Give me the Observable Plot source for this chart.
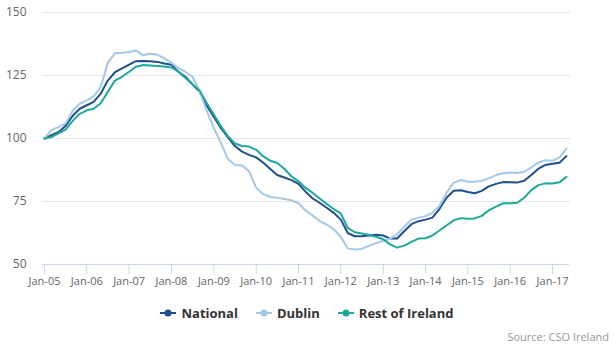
<!DOCTYPE html>
<html>
<head>
<meta charset="utf-8">
<script src="https://cdn.jsdelivr.net/npm/d3@7"></script>
<script src="https://cdn.jsdelivr.net/npm/@observablehq/plot@0.6"></script>
<style>
  html, body { margin: 0; padding: 0; background: #fff; }
  #wrap { position: relative; width: 614px; height: 346px; font-family: "Open Sans", sans-serif; }
  #legend { position: absolute; left: 0; top: 304px; width: 614px; display: flex; justify-content: center; gap: 18px; font-size: 13px; font-weight: bold; color: #333; }
  #legend .item { display: flex; align-items: center; gap: 5px; }
  #source { position: absolute; right: 5px; top: 329px; font-size: 11px; color: #999; }
</style>
</head>
<body>
<div id="wrap">
  <div id="chart"></div>
  <div id="legend"></div>
  <div id="source">Source: CSO Ireland</div>
</div>
<script>
// Bi-monthly readings, starting Jan 2005 (index i = i*2 months after Jan 2005)
const startYear = 2005;
const stepMonths = 2;

const national = [100,101.3,102.5,105,109,111.8,113.2,114.5,117.8,123,126.3,127.8,129.3,130.7,130.8,130.7,130.4,129.8,
  129.3,126.5,124.5,121.5,118.5,113,108.5,104.3,100.5,97,94.8,93.5,92.5,90.5,88,85.5,84.5,83.5,
  82,79,76.3,74.5,72.5,70.5,67.8,62.5,61.2,61.2,61.5,61.8,61.5,60.3,60.3,63.2,66,67.2,
  67.8,68.6,72,76.5,79.3,79.5,78.8,78.3,79.2,81,82,82.7,82.6,82.5,83.2,85.5,88,89.5,90,90.4,93];

const dublin = [100,103.3,104.5,106,111,113.8,115.1,116.7,120.4,130,133.8,134,134.3,134.9,133,133.6,133.3,131.8,
  130,128,126.4,124.5,118.5,111,104,98.5,92,89.5,89.3,87,80.5,78,76.8,76.5,76,75.5,
  74.3,71.5,69.5,67.3,65.8,64,61,56.3,56,56.2,57.5,58.5,59.3,60.3,62,65,67.8,68.6,
  69.2,70.5,73.3,78.5,82.5,83.5,82.8,82.8,83.2,84.2,85.5,86.2,86.5,86.3,86.8,88.5,90.5,91.4,91.2,92.5,96];

const restOfIreland = [100,100.6,102,103.5,107,109.8,111.2,111.8,114,118.5,123,124.5,126.5,128.5,129.2,129,128.8,128.6,
  128.2,126.5,124,121.5,119,114,109.5,105,101,98,97,96.8,95.5,93,91.2,90.3,88,85,
  83,80.5,78.5,76.3,74,72,70.3,64.5,62.8,62.3,61.7,61,60,58,56.7,57.5,59,60.3,
  60.4,61.5,63.5,65.5,67.5,68.4,68.2,68.3,69.3,71.5,73,74.3,74.3,74.5,76.5,79.5,81.5,82.2,82.1,82.6,84.8];

const seriesNames = ["National", "Dublin", "Rest of Ireland"];
const seriesColors = ["#1f4f8e", "#a3c9ea", "#1ca89a"];
const yTicks = [50, 75, 100, 125, 150];
const xTickYears = [2005,2006,2007,2008,2009,2010,2011,2012,2013,2014,2015,2016,2017];

const dateAt = i => new Date(Date.UTC(startYear, i * stepMonths, 1));
const rows = [];
[national, dublin, restOfIreland].forEach((arr, s) => {
  arr.forEach((v, i) => rows.push({series: seriesNames[s], date: dateAt(i), value: v}));
});

const xTicks = xTickYears.map(y => new Date(Date.UTC(y, 0, 1)));

const chart = Plot.plot({
  width: 614,
  height: 290,
  marginTop: 12,
  marginLeft: 44,
  marginRight: 48,
  marginBottom: 26,
  style: {fontFamily: "Open Sans, sans-serif", background: "#fff"},
  x: {type: "utc", domain: [new Date(Date.UTC(2005,0,1)), new Date(Date.UTC(2017,4,1))]},
  y: {domain: [50, 150]},
  color: {domain: seriesNames, range: seriesColors},
  marks: [
    Plot.gridY(yTicks, {stroke: "#e6e6e6", strokeOpacity: 1, insetLeft: -2, insetRight: -4}),
    Plot.ruleY([50], {stroke: "#ccd6eb", insetLeft: -2, insetRight: -2}),
    Plot.axisY({ticks: yTicks, tickSize: 0, tickPadding: 18, fontSize: 12, fill: "#666", label: null}),
    Plot.axisX({ticks: xTicks, tickSize: 10, stroke: "#ccd6eb", tickPadding: 3, fontSize: 11, fill: "#666", label: null,
      tickFormat: d => "Jan-" + String(d.getUTCFullYear()).slice(2)}),
    Plot.lineY(rows, {x: "date", y: "value", stroke: "series", strokeWidth: 2, strokeLinejoin: "round", strokeLinecap: "round"})
  ]
});
document.getElementById("chart").appendChild(chart);

// Legend
const legend = document.getElementById("legend");
seriesNames.forEach((name, i) => {
  const item = document.createElement("div");
  item.className = "item";
  item.innerHTML = `<svg width="16" height="12"><line x1="0" y1="6" x2="16" y2="6" stroke="${seriesColors[i]}" stroke-width="2"/><circle cx="8" cy="6" r="3.5" fill="${seriesColors[i]}"/></svg><span>${name}</span>`;
  legend.appendChild(item);
});
</script>
</body>
</html>
